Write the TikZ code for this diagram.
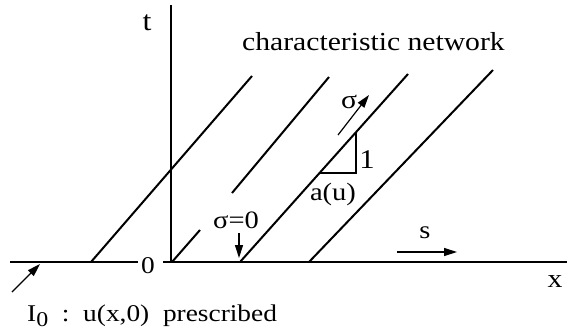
\documentclass[tikz,border=0pt]{standalone}
\usepackage{fontspec}
\setmainfont{Liberation Serif}[FakeStretch=1.14]
\usetikzlibrary{arrows.meta}
\begin{document}
\begin{tikzpicture}[x=1pt,y=-1pt,
  axis/.style={line width=1.4pt},
  charline/.style={line width=2pt},
  arr/.style={line width=1.2pt,-{Triangle[length=13pt,width=8pt]}},
  leg/.style={line width=1.2pt},
  lbl/.style={inner sep=0pt, font=\fontsize{24}{28}\selectfont},
]
\useasboundingbox (0,0) rectangle (567,333);
% labels
\node[lbl, anchor=base west, font=\fontsize{26}{30}\selectfont] (title) at (242,50) {characteristic network};
\node[lbl, anchor=base, font=\fontsize{28}{30}\selectfont] (t) at (147,30) {t};
\node[lbl, anchor=base] (zero) at (148,273) {0};
\node[lbl, anchor=base, font=\fontsize{26}{28}\selectfont] (xl) at (555,287) {x};
\node[lbl, anchor=base, font=\fontsize{25}{28}\selectfont] (sl) at (425,238) {s};
\node[lbl, anchor=base, font=\fontsize{25}{28}\selectfont] (sig0) at (236,228) {σ=0};
\node[lbl, anchor=base, font=\fontsize{26}{28}\selectfont] (sig) at (349,108) {σ};
\node[lbl, anchor=base, font=\fontsize{27}{28}\selectfont] (one) at (367,168) {1};
\node[lbl, anchor=base, font=\fontsize{25}{28}\selectfont] (au) at (333,200) {a(u)};
\node[lbl, anchor=base west] (I0) at (27,321) {I\raisebox{-5pt}{\fontsize{21}{21}\selectfont 0}\ \ :\ \ u(x,0)\ \ prescribed};
% coordinates
\coordinate (ytop) at (171,5);
\coordinate (ybot) at (171,262);
\coordinate (xl0) at (10,262);
\coordinate (xl1) at (138,262);
\coordinate (xr0) at (163,262);
\coordinate (xr1) at (567,262);
\coordinate (a1) at (91,262);   \coordinate (b1) at (252,76);
\coordinate (a2) at (172,262);  \coordinate (m2) at (200,230);
\coordinate (n2) at (232,193);  \coordinate (b2) at (329,77);
\coordinate (a3) at (240,262);  \coordinate (b3) at (408,74);
\coordinate (a4) at (309,262);  \coordinate (b4) at (493,70);
\coordinate (h0) at (320,173);  \coordinate (hc) at (356,173);  \coordinate (v1) at (356,132);
\coordinate (sa0) at (338,135); \coordinate (sa1) at (369,95);
\coordinate (za0) at (239,233); \coordinate (za1) at (239,258);
\coordinate (ss0) at (397,252); \coordinate (ss1) at (457,252);
\coordinate (ia0) at (12,292);  \coordinate (ia1) at (40,264);
% axes
\draw[axis] (ytop) -- (ybot);
\draw[axis] (xl0) -- (xl1);
\draw[axis] (xr0) -- (xr1);
% characteristics
\draw[charline] (a1) -- (b1);
\draw[charline] (a2) -- (m2);
\draw[charline] (n2) -- (b2);
\draw[charline] (a3) -- (b3);
\draw[charline] (a4) -- (b4);
% triangle
\draw[leg] (h0) -- (hc) -- (v1);
% arrows
\draw[arr] (sa0) -- (sa1);
\draw[arr] (za0) -- (za1);
\draw[arr] (ss0) -- (ss1);
\draw[arr] (ia0) -- (ia1);
\end{tikzpicture}
\end{document}
